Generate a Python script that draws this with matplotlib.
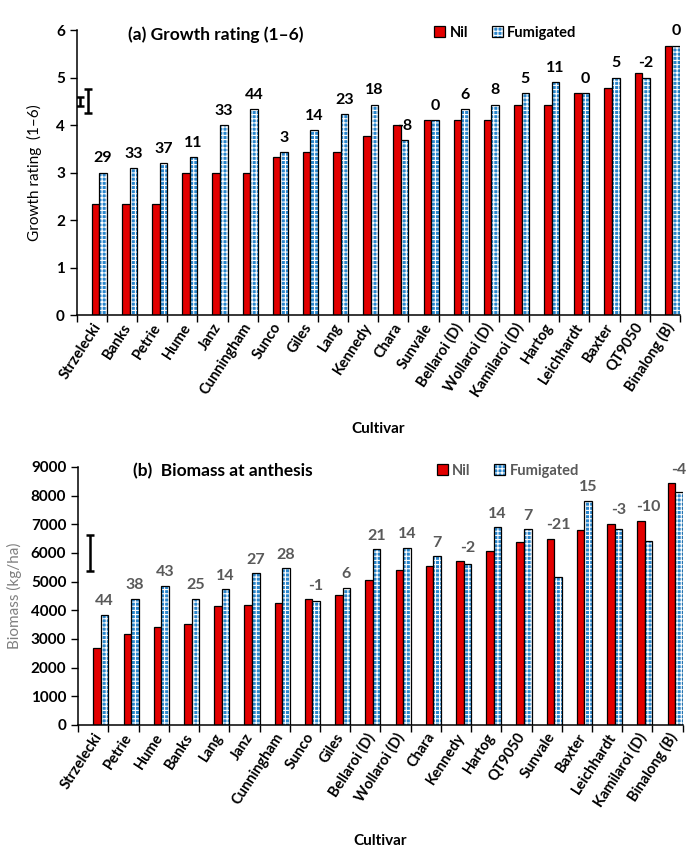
import numpy as np
import matplotlib
matplotlib.use("Agg")
import matplotlib.pyplot as plt
from matplotlib.patches import Patch

plt.rcParams["font.family"] = ["Lato", "DejaVu Sans"]
plt.rcParams["hatch.linewidth"] = 0.8

# (a) Growth rating (1-6)
cult_a = ["Strzelecki", "Banks", "Petrie", "Hume", "Janz", "Cunningham", "Sunco",
          "Giles", "Lang", "Kennedy", "Chara", "Sunvale", "Bellaroi (D)",
          "Wollaroi (D)", "Kamilaroi (D)", "Hartog", "Leichhardt", "Baxter",
          "QT9050", "Binalong (B)"]
nil_a = [2.33, 2.33, 2.33, 3.0, 3.0, 3.0, 3.33, 3.43, 3.43, 3.77, 4.0, 4.1,
         4.1, 4.1, 4.43, 4.43, 4.67, 4.77, 5.1, 5.67]
fum_a = [3.0, 3.1, 3.2, 3.33, 4.0, 4.33, 3.43, 3.9, 4.23, 4.43, 3.68, 4.1,
         4.34, 4.43, 4.67, 4.9, 4.67, 5.0, 5.0, 5.67]
pct_a = ["29", "33", "37", "11", "33", "44", "3", "14", "23", "18", "-8", "0",
         "6", "8", "5", "11", "0", "5", "-2", "0"]

# (b) Biomass at anthesis (kg/ha)
cult_b = ["Strzelecki", "Petrie", "Hume", "Banks", "Lang", "Janz", "Cunningham",
          "Sunco", "Giles", "Bellaroi (D)", "Wollaroi (D)", "Chara", "Kennedy",
          "Hartog", "QT9050", "Sunvale", "Baxter", "Leichhardt", "Kamilaroi (D)",
          "Binalong (B)"]
nil_b = [2670, 3190, 3410, 3530, 4160, 4200, 4270, 4380, 4520, 5050, 5420,
         5530, 5720, 6080, 6370, 6500, 6790, 7020, 7120, 8440]
fum_b = [3840, 4400, 4850, 4400, 4740, 5300, 5460, 4330, 4780, 6130, 6180,
         5890, 5600, 6900, 6830, 5150, 7830, 6830, 6410, 8130]
pct_b = ["44", "38", "43", "25", "14", "27", "28", "-1", "6", "21", "14", "7",
         "-2", "14", "7", "-21", "15", "-3", "-10", "-4"]

RED = "#E30000"
BLUE = "#2A86CC"
GREY = "#595959"
w = 0.25


def draw_panel(ax, cults, nil, fum, pct, ymax, ystep, label_pos, txt_color, xpad):
    x = np.arange(len(cults))
    ax.bar(x, nil, width=w, align="edge", color=RED, edgecolor="black", linewidth=0.9)
    ax.bar(x + w, fum, width=w, align="edge", color=BLUE, edgecolor="white",
           hatch="++++", linewidth=0)
    ax.bar(x + w, fum, width=w, align="edge", fill=False, edgecolor="black", linewidth=0.9)
    for xi, yi, t in zip(x, label_pos, pct):
        ax.text(xi + 1.5 * w, yi, t, ha="center", va="center", fontsize=11.5,
                fontweight="bold", color=txt_color)
    ax.set_xlim(-0.5, len(cults) - 0.5)
    ax.set_ylim(0, ymax)
    ax.set_yticks(np.arange(0, ymax + ystep / 2, ystep))
    ax.set_xticks(np.arange(len(cults) + 1) - 0.5)
    ax.set_xticklabels([])
    ax.set_xticks(x, minor=True)
    ax.set_xticklabels(cults, minor=True, rotation=57, ha="right",
                       rotation_mode="anchor", fontsize=10.5, fontweight="bold")
    ax.tick_params(axis="x", which="minor", length=0, pad=4)
    ax.tick_params(axis="x", which="major", length=5, width=1, direction="out")
    ax.tick_params(axis="y", length=5, width=1, direction="out", labelsize=11)
    for lab in ax.get_yticklabels():
        lab.set_fontweight("bold")
    for s in ["top", "right"]:
        ax.spines[s].set_visible(False)
    for s in ["left", "bottom"]:
        ax.spines[s].set_linewidth(1.1)
    ax.set_xlabel("Cultivar", fontsize=11, fontweight="bold", labelpad=xpad)


def legend(ax, anchor, txt_color):
    h_nil = Patch(facecolor=RED, edgecolor="black", linewidth=0.9)
    h_fum = (Patch(facecolor=BLUE, edgecolor="white", hatch="++++", linewidth=0),
             Patch(fill=False, edgecolor="black", linewidth=0.9))
    leg = ax.legend([h_nil, h_fum], ["Nil", "Fumigated"], loc="center right",
                    bbox_to_anchor=anchor, ncol=2, frameon=False,
                    handlelength=0.75, handleheight=0.75, handletextpad=0.3,
                    columnspacing=1.6, prop={"weight": "bold", "size": 10.5})
    for t in leg.get_texts():
        t.set_color(txt_color)


fig = plt.figure(figsize=(6.98, 8.5), dpi=100)

# top panel
ax1 = fig.add_axes([0.110, 0.6294, 0.864, 0.3353])
draw_panel(ax1, cult_a, nil_a, fum_a, pct_a, 6, 1,
           [f + 0.3 for f in fum_a], "black", 16)
ax1.set_ylabel("Growth rating  (1\u20136)", fontsize=11, labelpad=10)
ax1.errorbar([-0.40], [4.5], yerr=[0.09], fmt="none", ecolor="black",
             elinewidth=1.8, capsize=3, capthick=1.8)
ax1.errorbar([-0.13], [4.5], yerr=[0.25], fmt="none", ecolor="black",
             elinewidth=1.8, capsize=3, capthick=1.8)
ax1.text(0.23, 0.985, "(a) Growth rating (1\u20136)", transform=ax1.transAxes,
         ha="center", va="center", fontsize=12.5, fontweight="bold")
legend(ax1, (0.85, 0.99), "black")

# bottom panel
ax2 = fig.add_axes([0.112, 0.1471, 0.866, 0.3035])
draw_panel(ax2, cult_b, nil_b, fum_b, pct_b, 9000, 1000,
           [max(n, f) + 470 for n, f in zip(nil_b, fum_b)], GREY, 18)
ax2.set_ylabel("Biomass (kg/ha)", fontsize=11, color="#7F7F7F", labelpad=6)
ax2.errorbar([-0.10], [6000], yerr=[615], fmt="none", ecolor="black",
             elinewidth=1.8, capsize=3, capthick=1.8)
ax2.text(0.24, 0.985, "(b)  Biomass at anthesis", transform=ax2.transAxes,
         ha="center", va="center", fontsize=12.5, fontweight="bold")
legend(ax2, (0.85, 0.985), GREY)

fig.savefig("out.png", dpi=100)
